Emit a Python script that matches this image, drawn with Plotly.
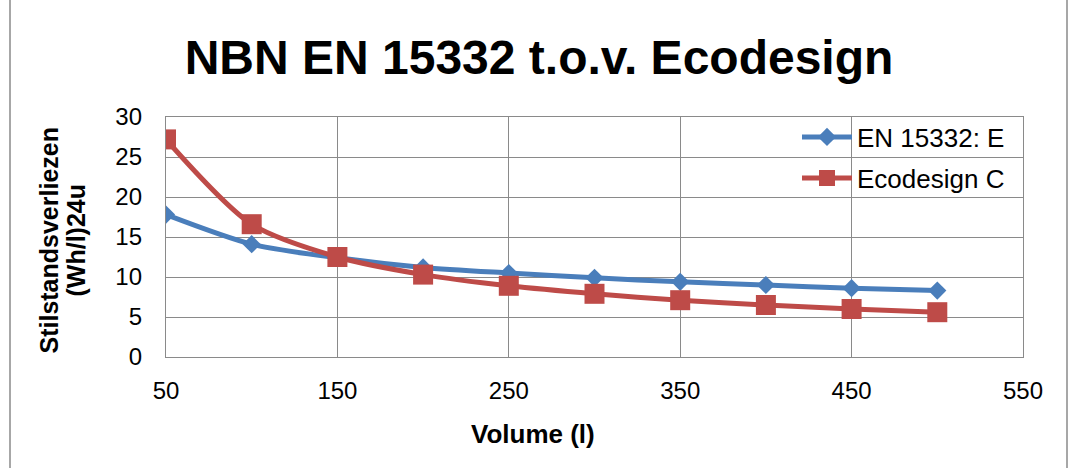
import plotly.graph_objects as go

volumes = [50, 100, 150, 200, 250, 300, 350, 400, 450, 500]
en15332_e = [17.8, 14.1, 12.4, 11.2, 10.5, 9.9, 9.4, 9.0, 8.6, 8.3]
ecodesign_c = [27.2, 16.6, 12.5, 10.3, 8.9, 7.9, 7.1, 6.5, 6.0, 5.6]

BLUE = "#4A7EBB"
RED = "#BE4B48"
GRID = "#8A8A8A"
FONT = "Arial, Liberation Sans, sans-serif"

W, H = 1069, 468
L, R, T, B = 166, 46, 117, 111
pw, ph = W - L - R, H - T - B

def px_x(x):
    return (x - L) / pw

def px_y(y):
    return 1 - (y - T) / ph

fig = go.Figure()
fig.add_trace(go.Scatter(
    x=volumes, y=en15332_e, name="EN 15332: E", mode="lines+markers",
    line=dict(color=BLUE, width=5, shape="spline", smoothing=0.8),
    marker=dict(symbol="diamond", size=14, color=BLUE),
    legend="legend",
))
fig.add_trace(go.Scatter(
    x=volumes, y=ecodesign_c, name="Ecodesign C", mode="lines+markers",
    line=dict(color=RED, width=5, shape="spline", smoothing=0.8),
    marker=dict(symbol="square", size=20, color=RED),
    legend="legend2",
))

leg_common = dict(font=dict(family=FONT, size=26, color="black"),
                  bgcolor="rgba(0,0,0,0)", borderwidth=0,
                  xanchor="left", yanchor="middle", itemwidth=50)

fig.update_layout(
    width=W, height=H,
    margin=dict(l=L, r=R, t=T, b=B, autoexpand=False),
    paper_bgcolor="white", plot_bgcolor="white",
    font=dict(family=FONT, color="black"),
    title=dict(text="<b>NBN EN 15332 t.o.v. Ecodesign</b>",
               x=539 / W, xanchor="center", xref="container",
               y=1 - 57 / H, yanchor="middle", yref="container",
               font=dict(family=FONT, size=48, color="black")),
    xaxis=dict(range=[50, 550], tick0=50, dtick=100, showgrid=True,
               gridcolor=GRID, gridwidth=1.3, showline=True, linecolor=GRID,
               linewidth=1.3, mirror=True, zeroline=False,
               ticks="outside", ticklen=12, tickcolor="rgba(0,0,0,0)",
               tickfont=dict(family=FONT, size=24, color="black")),
    yaxis=dict(range=[0, 30], tick0=0, dtick=5, showgrid=True,
               gridcolor=GRID, gridwidth=1.3, showline=True, linecolor=GRID,
               linewidth=1.3, mirror=True, zeroline=False,
               ticks="outside", ticklen=18, tickcolor="rgba(0,0,0,0)",
               tickfont=dict(family=FONT, size=24, color="black")),
    legend=dict(x=px_x(797), y=px_y(137), **leg_common),
    legend2=dict(x=px_x(797), y=px_y(178), **leg_common),
    showlegend=True,
)

fig.add_annotation(text="<b>Volume (l)</b>", xref="paper", yref="paper",
                   x=px_x(533), y=px_y(434), xanchor="center", yanchor="middle",
                   showarrow=False, font=dict(family=FONT, size=26, color="black"))
fig.add_annotation(text="<b>Stilstandsverliezen</b>", xref="paper", yref="paper",
                   x=px_x(48.5), y=px_y(240), xanchor="center", yanchor="middle",
                   textangle=-90, showarrow=False,
                   font=dict(family=FONT, size=25, color="black"))
fig.add_annotation(text="<b>(Wh/l)24u</b>", xref="paper", yref="paper",
                   x=px_x(75.5), y=px_y(240), xanchor="center", yanchor="middle",
                   textangle=-90, showarrow=False,
                   font=dict(family=FONT, size=25, color="black"))

for xpx in (10, 1067):
    fig.add_shape(type="line", xref="paper", yref="paper",
                  x0=px_x(xpx), x1=px_x(xpx), y0=-1, y1=2,
                  line=dict(color=GRID, width=1.5))

fig.write_html("out.html")
